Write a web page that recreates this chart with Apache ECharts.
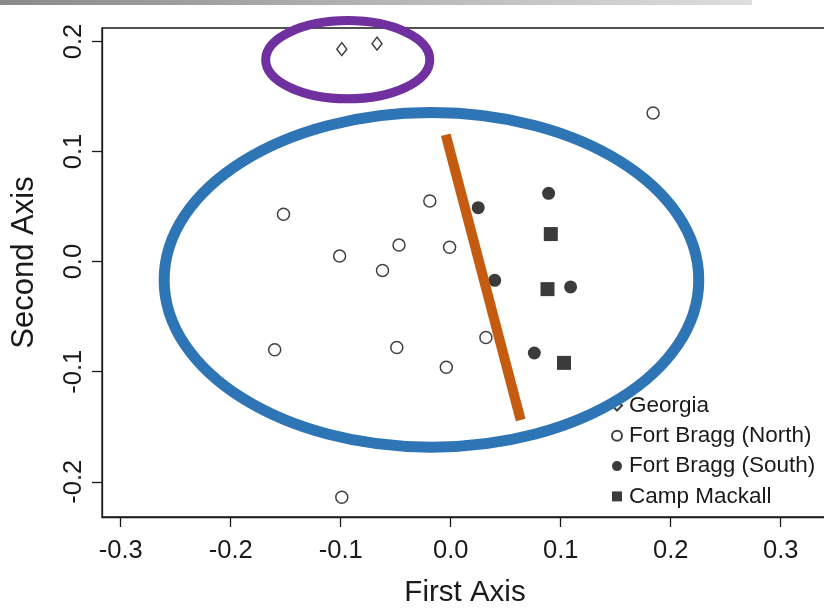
<!DOCTYPE html>
<html>
<head>
<meta charset="utf-8">
<script src="https://cdn.jsdelivr.net/npm/echarts@6/dist/echarts.min.js"></script>
<style>
html,body{margin:0;padding:0;background:#fff;}
#c{width:824px;height:609px;}
</style>
</head>
<body>
<div id="c"></div>
<script>
// ---- data ----
const seriesNames = ['Georgia', 'Fort Bragg (North)', 'Fort Bragg (South)', 'Camp Mackall'];
const georgia = [[-0.099, 0.193], [-0.067, 0.198]];
const braggNorth = [
  [-0.152, 0.043], [-0.019, 0.055], [-0.047, 0.015], [-0.001, 0.013],
  [-0.101, 0.005], [-0.062, -0.008], [-0.160, -0.080], [-0.049, -0.078],
  [0.032, -0.069], [-0.004, -0.096], [0.184, 0.135], [-0.099, -0.214]
];
const braggSouth = [[0.025, 0.049], [0.040, -0.017], [0.089, 0.062], [0.109, -0.023], [0.076, -0.083]];
const campMackall = [[0.091, 0.025], [0.088, -0.025], [0.103, -0.092]];
const xTicks = [-0.3, -0.2, -0.1, 0.0, 0.1, 0.2, 0.3];
const yTicks = [-0.2, -0.1, 0.0, 0.1, 0.2];
const xTitle = 'First Axis';
const yTitle = 'Second Axis';
// annotation overlays in data coordinates
const purpleEllipse = {cx: -0.0936, cy: 0.1834, rx: 0.0746, ry: 0.0355};
const blueEllipse = {cx: -0.0175, cy: -0.0166, rx: 0.243, ry: 0.152};
const orangeLine = [[-0.0045, 0.1152], [0.0636, -0.1439]];

const FONT = '"Liberation Sans", Arial, Helvetica, sans-serif';
const chart = echarts.init(document.getElementById('c'), null, {renderer: 'canvas'});
const fmt = v => (Math.abs(v) < 1e-9 ? 0 : v).toFixed(1);
const INK = '#1a1a1a';

const option = {
  animation: false,
  backgroundColor: '#fff',
  grid: {left: 102, top: 28, width: 726, height: 489, show: true, outerBoundsMode: 'none', containLabel: false,
         borderColor: INK, borderWidth: 1.3, backgroundColor: 'transparent'},
  legend: {
    orient: 'vertical', left: 606, top: 389, itemWidth: 10, itemHeight: 10, itemGap: 7.3,
    data: seriesNames,
    textStyle: {fontFamily: FONT, fontSize: 22.5, lineHeight: 22, color: INK, padding: [0, 0, 0, 2]}
  },
  xAxis: {
    type: 'value', min: -0.317, max: 0.343,
    splitLine: {show: false},
    axisLine: {show: true, onZero: false, lineStyle: {color: INK, width: 1.3}},
    axisTick: {show: true, inside: false, length: 10, customValues: xTicks, lineStyle: {color: INK, width: 1.3}},
    axisLabel: {customValues: xTicks, formatter: fmt, margin: 21, fontFamily: FONT, fontSize: 25.5, color: INK},
    name: xTitle, nameLocation: 'middle', nameGap: 61,
    nameTextStyle: {fontFamily: FONT, fontSize: 29.5, color: INK}
  },
  yAxis: {
    type: 'value', min: -0.232, max: 0.2122,
    splitLine: {show: false},
    axisLine: {show: true, onZero: false, lineStyle: {color: INK, width: 1.3}},
    axisTick: {show: true, inside: false, length: 10, customValues: yTicks, lineStyle: {color: INK, width: 1.3}},
    axisLabel: {customValues: yTicks, formatter: fmt, rotate: 90, margin: 15, fontFamily: FONT, fontSize: 25.5, color: INK},
    name: yTitle, nameLocation: 'middle', nameGap: 62,
    nameTextStyle: {fontFamily: FONT, fontSize: 31, color: INK, padding: [0, 0, 0, 20]}
  },
  series: [
    {name: seriesNames[0], type: 'scatter', data: georgia, symbol: 'diamond', symbolSize: [10, 13],
     itemStyle: {color: '#fff', borderColor: '#111', borderWidth: 1.5}},
    {name: seriesNames[1], type: 'scatter', data: braggNorth, symbol: 'circle', symbolSize: 12,
     itemStyle: {color: '#fff', borderColor: '#111', borderWidth: 1.5}},
    {name: seriesNames[2], type: 'scatter', data: braggSouth, symbol: 'circle', symbolSize: 13,
     itemStyle: {color: '#0a0a0a'}},
    {name: seriesNames[3], type: 'scatter', data: campMackall, symbol: 'rect', symbolSize: 14,
     itemStyle: {color: '#0a0a0a'}}
  ]
};
chart.setOption(option);

// overlays placed via the chart's own coordinate conversion
function px(pt) { return chart.convertToPixel({gridIndex: 0}, pt); }
function ell(e) {
  const c = px([e.cx, e.cy]);
  const r = px([e.cx + e.rx, e.cy + e.ry]);
  return {cx: c[0], cy: c[1], rx: Math.abs(r[0] - c[0]), ry: Math.abs(c[1] - r[1])};
}
const p1 = px(orangeLine[0]), p2 = px(orangeLine[1]);
chart.setOption({
  graphic: [
    {type: 'rect', z: 100, shape: {x: 0, y: 0, width: 752, height: 5},
     style: {fill: new echarts.graphic.LinearGradient(0, 0, 1, 0, [
       {offset: 0, color: '#8a8a8a'}, {offset: 1, color: '#dedede'}])}},
    {type: 'ellipse', z: 100, shape: ell(purpleEllipse),
     style: {fill: 'none', stroke: '#7030a0', lineWidth: 9}},
    {type: 'ellipse', z: 100, shape: ell(blueEllipse),
     style: {fill: 'none', stroke: '#2e75b6', lineWidth: 11}},
    {type: 'line', z: 100, shape: {x1: p1[0], y1: p1[1], x2: p2[0], y2: p2[1]},
     style: {stroke: '#c55a11', lineWidth: 10, lineCap: 'butt'}}
  ]
});
</script>
</body>
</html>
